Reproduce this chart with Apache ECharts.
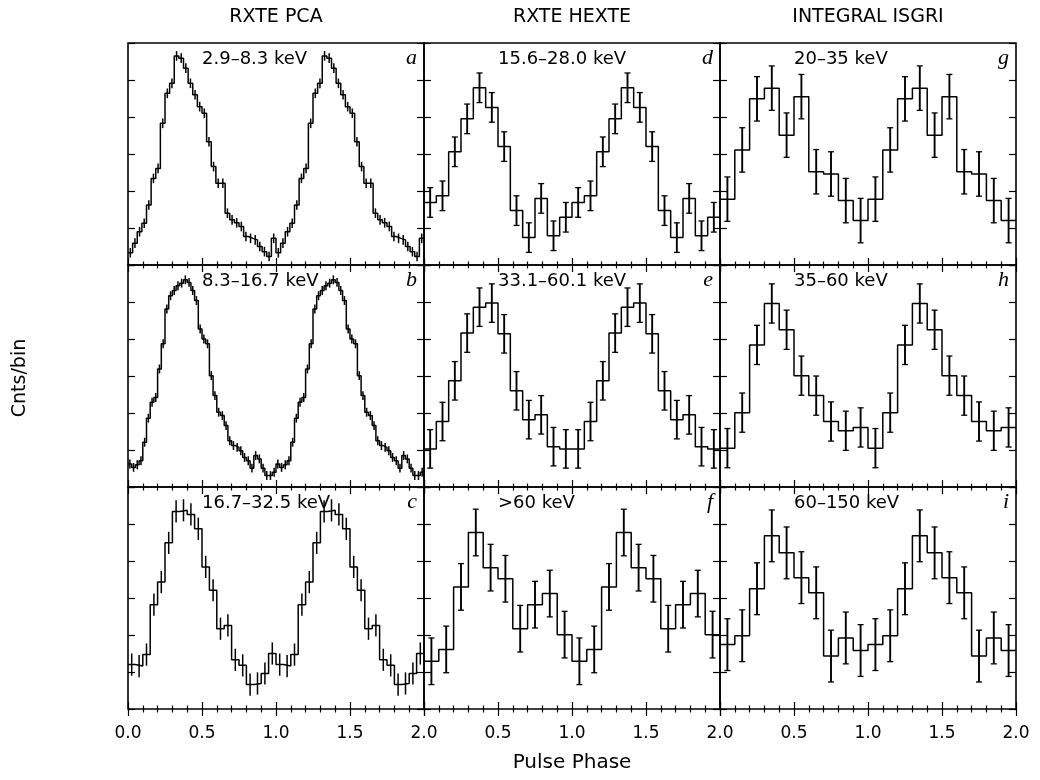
<!DOCTYPE html>
<html><head><meta charset="utf-8">
<script src="https://cdn.jsdelivr.net/npm/echarts@6/dist/echarts.min.js"></script>
<style>html,body{margin:0;padding:0;background:#fff}#chart{width:1040px;height:780px}</style>
</head><body><div id="chart"></div>
<script>
// ---------------- data: one pulse cycle per panel (plotted twice, phase 0-2) -------------
const columnTitles = ['RXTE PCA', 'RXTE HEXTE', 'INTEGRAL ISGRI'];
const panelLetters = ['a', 'b', 'c', 'd', 'e', 'f', 'g', 'h', 'i'];
const energyLabels = ['2.9–8.3 keV', '8.3–16.7 keV', '16.7–32.5 keV',
                      '15.6–28.0 keV', '33.1–60.1 keV', '>60 keV',
                      '20–35 keV', '35–60 keV', '60–150 keV'];
const xAxisName = 'Pulse Phase';
const yAxisName = 'Cnts/bin';
const phaseTicks = [0.0, 0.5, 1.0, 1.5, 2.0];

// counts per bin (arbitrary units, axis 0-6)
const countsA = [0.33,0.59,0.90,1.13,1.62,2.34,2.61,3.83,4.64,4.91,5.65,5.59,5.32,4.91,4.60,4.28,
                 4.10,3.33,2.66,2.21,2.21,1.40,1.22,1.14,1.04,0.77,0.72,0.68,0.50,0.36,0.23,0.72];
const countsB = [0.62,0.53,0.60,0.71,1.21,1.86,2.29,2.42,3.19,3.87,4.81,5.17,5.31,5.44,5.51,5.60,
                 5.53,5.31,5.04,4.27,4.00,3.87,3.01,2.47,2.02,1.93,1.66,1.25,1.12,1.07,0.98,0.80,
                 0.71,0.51,0.85,0.76,0.51,0.31,0.31,0.40];
const countsC = [1.20,1.16,1.47,2.82,3.43,4.49,5.34,5.37,5.26,4.87,3.84,3.21,2.17,2.26,1.33,1.18,
                 0.66,0.69,0.96,1.50];
const countsD = [1.69,1.87,3.06,3.95,4.79,4.26,3.20,1.47,0.74,1.80,0.79,1.29];
const countsE = [1.03,1.77,2.87,4.16,4.86,4.97,4.14,2.60,1.82,1.95,1.09,1.03];
const countsF = [1.29,1.61,3.30,4.77,3.82,3.52,2.17,2.82,3.12,2.01];
const countsG = [1.78,3.11,4.49,4.78,3.51,4.55,2.52,2.46,1.74,1.20];
const countsH = [1.05,2.01,3.84,4.96,4.25,3.01,2.47,1.77,1.52,1.61];
const countsI = [1.74,1.98,3.25,4.68,4.22,3.55,3.14,1.43,1.92,1.58];
// 1-sigma error per bin for each panel
const errA = 0.13, errB = 0.12, errC = 0.30;
const errD = 0.40, errE = 0.52, errF = 0.63;
const errG = 0.60, errH = 0.53, errI = 0.70;

const panelCounts = [countsA, countsB, countsC, countsD, countsE, countsF, countsG, countsH, countsI];
const panelErrs = [errA, errB, errC, errD, errE, errF, errG, errH, errI];

// ---------------- layout / style ----------------
const gridLeft = [128, 424, 720];
const gridTop = [43, 265, 487];
const W = 296, H = 222;
const FONT = 'DejaVu Sans';

const grids = [], xAxes = [], yAxes = [], series = [], graphics = [];

for (let p = 0; p < 9; p++) {
  const col = Math.floor(p / 3), row = p % 3;
  const vals = panelCounts[p], err = panelErrs[p], N = vals.length;
  const isPCA = col === 0;
  grids.push({left: gridLeft[col], top: gridTop[row], width: W, height: H,
              show: true, borderColor: '#000', borderWidth: 1.6, backgroundColor: 'transparent'});
  const baseX = {
    type: 'value', gridIndex: p, min: 0, max: 2, interval: 0.5,
    axisLine: {show: false},
    axisTick: {show: true, inside: true, length: 7, lineStyle: {color: '#000', width: 1.2}},
    minorTick: {show: true, splitNumber: 5, length: 3.5, lineStyle: {color: '#000', width: 1.2}},
    splitLine: {show: false}, minorSplitLine: {show: false}
  };
  xAxes.push(Object.assign({}, baseX, {position: 'bottom',
    axisLabel: {show: row === 2, showMinLabel: col === 0, showMaxLabel: true, margin: 16,
                fontFamily: FONT, fontSize: 17, color: '#000',
                formatter: v => phaseTicks.includes(v) ? v.toFixed(1) : ''}}));
  xAxes.push(Object.assign({}, baseX, {position: 'top', axisLabel: {show: false}}));
  const baseY = {
    type: 'value', gridIndex: p, min: 0, max: 6, interval: 1,
    axisLine: {show: false, onZero: false}, axisLabel: {show: false},
    axisTick: {show: true, inside: false, length: -7, lineStyle: {color: '#000', width: 1.2}},
    splitLine: {show: false}
  };
  yAxes.push(Object.assign({}, baseY, {position: 'left'}));
  yAxes.push(Object.assign({}, baseY, {position: 'right'}));

  // histogram steps (bin left edges, two cycles)
  const stepData = [];
  for (let k = 0; k < 2 * N; k++) stepData.push([k / N, vals[k % N]]);
  stepData.push([2, vals[N - 1]]);
  series.push({type: 'line', xAxisIndex: 2 * p, yAxisIndex: 2 * p, data: stepData,
               step: 'end', showSymbol: false, symbol: 'none', silent: true, animation: false,
               lineStyle: {color: '#000', width: 1.5}});
  // error bars at bin centres
  const errData = [];
  for (let k = 0; k < 2 * N; k++) errData.push([(k + 0.5) / N, vals[k % N], err]);
  series.push({type: 'custom', xAxisIndex: 2 * p, yAxisIndex: 2 * p, data: errData,
    encode: {x: 0, y: 1}, animation: false, silent: true, clip: false,
    renderItem: (params, api) => {
      const x = api.value(0), y = api.value(1), e = api.value(2);
      const t = api.coord([x, y + e]), b = api.coord([x, y - e]);
      const lw = isPCA ? 1.5 : 1.9;
      const ch = [{type: 'line', shape: {x1: t[0], y1: t[1], x2: b[0], y2: b[1]},
                   style: {stroke: '#000', lineWidth: lw}}];
      if (!isPCA) {
        ch.push({type: 'line', shape: {x1: t[0] - 3, y1: t[1], x2: t[0] + 3, y2: t[1]}, style: {stroke: '#000', lineWidth: 1.3}});
        ch.push({type: 'line', shape: {x1: b[0] - 3, y1: b[1], x2: b[0] + 3, y2: b[1]}, style: {stroke: '#000', lineWidth: 1.3}});
      }
      return {type: 'group', children: ch};
    }});

  // in-panel labels
  graphics.push({type: 'text', left: gridLeft[col] + 74, top: gridTop[row] + 7, silent: true,
    style: {text: energyLabels[p], font: '18px "' + FONT + '"', fill: '#000'}});
  graphics.push({type: 'text', x: gridLeft[col] + W - 7, y: gridTop[row] + 15, silent: true,
    style: {text: panelLetters[p], font: 'italic 22px "Liberation Serif"', fill: '#000',
            textAlign: 'right', textVerticalAlign: 'middle'}});
}

for (let c = 0; c < 3; c++) {
  graphics.push({type: 'text', x: gridLeft[c] + W / 2, y: 17, silent: true,
    style: {text: columnTitles[c], font: '19px "' + FONT + '"', fill: '#000',
            textAlign: 'center', textVerticalAlign: 'middle'}});
}
graphics.push({type: 'text', x: 572, y: 763, silent: true,
  style: {text: xAxisName, font: '20px "' + FONT + '"', fill: '#000', textAlign: 'center', textVerticalAlign: 'middle'}});
graphics.push({type: 'text', x: 20, y: 378, rotation: Math.PI / 2, silent: true,
  style: {text: yAxisName, font: '19px "' + FONT + '"', fill: '#000', textAlign: 'center', textVerticalAlign: 'middle'}});

const chart = echarts.init(document.getElementById('chart'), null, {renderer: 'canvas'});
chart.setOption({
  backgroundColor: '#fff', animation: false,
  grid: grids, xAxis: xAxes, yAxis: yAxes, series: series, graphic: graphics
});
</script></body></html>
